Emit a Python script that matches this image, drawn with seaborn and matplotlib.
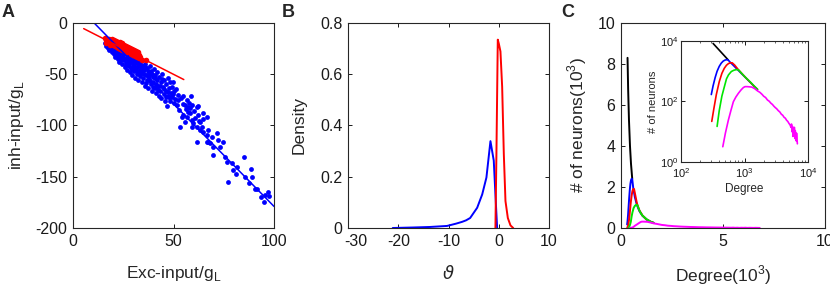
import numpy as np
import pandas as pd
import matplotlib
matplotlib.use('Agg')
import matplotlib.pyplot as plt
import matplotlib.transforms as mtrans
import seaborn as sns
from matplotlib.ticker import FormatStrFormatter, NullLocator, LogLocator

sns.set_theme(style='ticks')
plt.rcParams['font.family'] = ['Liberation Sans', 'DejaVu Sans']
plt.rcParams['axes.unicode_minus'] = False

# Panel A: excitatory vs inhibitory input
blue_x = [
    16.0, 16.5, 17.0, 17.2, 17.8, 18.0, 18.3, 18.5,
    19.0, 19.2, 19.5, 20.0, 20.2, 20.5, 20.8, 21.0, 21.2,
    22.0, 22.3, 22.5, 22.8, 23.0, 23.3, 23.6, 24.0, 24.2, 24.5,
    25.0, 25.3, 25.6, 26.0, 26.2, 26.5, 26.8, 27.0, 27.3, 27.6,
    28.0, 28.2, 28.5, 28.8, 29.0, 29.3, 29.6, 30.0, 30.2, 30.5, 30.8,
    31.0, 31.3, 31.6, 32.0, 32.2, 32.5, 32.8, 33.0, 33.3, 33.6,
    34.0, 34.2, 34.5, 34.8, 35.0, 35.3, 35.6, 36.0, 36.3, 36.6,
    37.0, 37.3, 37.6, 38.0, 38.3, 38.6, 39.0, 39.3, 39.6,
    40.0, 40.3, 40.6, 41.0, 41.3, 41.6, 42.0, 42.3, 42.6,
    43.0, 43.3, 43.6, 44.0, 44.3, 44.6, 45.0, 45.3, 45.6,
    46.0, 46.3, 46.6, 47.0, 47.3, 47.6, 48.0, 48.3, 48.6,
    49.0, 49.3, 49.8, 50.0, 50.3, 50.6, 51.5, 52.0, 52.3, 53.5, 54.8,
    53.2, 54.8, 55.7, 56.0, 56.5, 57.3, 57.5, 58.0, 58.1, 59.0, 59.0, 59.8,
    55.7, 60.0, 60.6, 61.5, 61.5, 61.5, 62.0, 62.5, 63.0, 64.0, 64.5, 64.8,
    66.5, 66.5, 67.0, 68.1, 69.0, 69.8, 71.4, 72.2, 74.7, 75.6, 76.4, 77.2,
    78.9, 81.1, 81.4, 85.1, 85.5, 87.7, 88.5, 89.2, 91.4, 95.2, 95.5, 97.2, 97.5,
    16.8, 17.5, 18.8, 19.7, 20.4, 21.5, 21.8, 22.6, 23.2, 23.8,
    24.8, 25.5, 26.3, 27.2, 27.8, 28.4, 29.2, 29.8, 30.4, 31.2,
    31.8, 32.4, 33.1, 33.8, 34.4, 35.2, 35.8, 36.4, 37.2, 37.8,
    38.4, 39.2, 39.8, 40.8, 41.5, 42.2, 43.2, 44.2, 45.2, 46.2,
    47.2, 48.2, 49.5,
    54.0, 54.5, 56.5, 58.6, 59.0, 62.3, 63.1, 64.8, 66.4, 67.3,
    69.8, 73.1, 79.5, 90.5, 93.5, 57.0, 52.5, 51.0,
]
blue_y = [
    -20, -22, -19, -24, -21, -26, -18, -23,
    -20, -25, -28, -22, -30, -18, -26, -33, -23,
    -27, -35, -21, -30, -38, -25, -33, -28, -40, -23,
    -31, -36, -43, -27, -34, -39, -46, -30, -37, -42,
    -33, -48, -38, -44, -29, -51, -36, -41, -47, -33, -54,
    -39, -45, -50, -36, -42, -56, -47, -39, -52, -44,
    -37, -49, -58, -42, -54, -46, -61, -40, -51, -56,
    -44, -63, -49, -55, -42, -60, -47, -66, -53,
    -58, -45, -63, -51, -68, -56, -48, -61, -71,
    -53, -66, -58, -73, -50, -62, -69, -56, -76,
    -60, -66, -81, -54, -71, -63, -76, -58, -68,
    -72, -62, -57.5, -66, -78, -74, -80, -70, -75, -73, -71.4,
    -101.3, -89.9, -80.2, -84, -91.6, -86.7, -78, -83, -88.3, -80.2, -94.8, -98,
    -96.4, -86, -93.1, -81.8, -101.3, -115.9, -90, -96, -104, -101.3, -94.1, -106.2,
    -109.4, -115.9, -104, -117.5, -111, -128.9, -107.7, -114.2, -115.9, -130.5, -135.4, -155.5,
    -137, -147.7, -140.3, -131.1, -150, -156.4, -142.8, -150, -162.3, -174.9, -167.8, -164.6, -168.8,
    -21.5, -23, -24.5, -23.5, -27.5, -25.5, -29, -32, -28, -36,
    -34, -29, -41, -33, -39, -35, -45, -39, -43, -35,
    -47, -39, -49, -41, -45, -50, -43, -59, -47, -52,
    -57, -50, -62, -54, -60, -65, -61, -55, -64, -72,
    -67, -72, -69,
    -91.6, -78.6, -75.3, -71.4, -101, -81, -96.4, -88.3, -91.6, -116,
    -120.8, -120.8, -143, -162, -170, -82, -85, -64,
]
red_x = [
    16.0, 16.3, 16.6, 17.0, 17.3, 17.6, 18.0, 18.2, 18.6, 19.0,
    19.2, 19.5, 19.8, 20.0, 20.3, 20.6, 21.0, 21.2, 21.5, 21.8,
    22.0, 22.3, 22.6, 23.0, 23.3, 23.6, 24.0, 24.3, 24.6, 25.0,
    25.3, 25.6, 26.0, 26.3, 26.6, 27.0, 27.3, 27.6, 28.0, 28.3,
    28.6, 29.0, 29.3, 29.6, 30.0, 30.3, 30.6, 31.0, 31.3, 31.6,
    32.0, 32.3, 32.6, 33.0, 33.3, 34.5, 36.5,
]
red_y = [
    -14.5, -17, -19.5, -15.5, -18, -20, -16, -18.8, -21, -17,
    -19.5, -15.8, -21.8, -18.5, -20.5, -16.8, -22.5, -19.5, -18, -23.5,
    -21, -19, -24, -21.8, -18.5, -25, -22.5, -20, -26, -23,
    -21, -27, -24.5, -22, -28, -25, -23, -28.5, -26, -24,
    -30, -27, -25, -31, -28, -26, -32, -29, -27.5, -33,
    -30, -28.5, -34, -31, -33, -36, -36.5,
]
blue_fit_x = [10.5, 100]
blue_fit_y = [0, -179]
red_fit_x = [5.3, 55.1]
red_fit_y = [-5.5, -55.2]

# Panel B: density of theta
theta_blue = [-21.1, -17, -13.7, -10.3, -8.5, -7.3, -6.5, -5.7, -4.3, -3.3, -2.46, -1.66, -1.0, -0.67, -0.33]
dens_blue = [0, 0.002, 0.004, 0.008, 0.017, 0.024, 0.03, 0.039, 0.079, 0.131, 0.197, 0.339, 0.263, 0.131, 0.0]
theta_red = [-0.67, -0.47, -0.2, 0.0, 0.33, 0.67, 1.0, 1.33, 1.8, 2.33, 2.87]
dens_red = [0, 0.289, 0.735, 0.72, 0.689, 0.551, 0.289, 0.105, 0.039, 0.01, 0.0]

# Panel C: degree distributions (counts)
deg_black = [320, 350, 390, 440, 490, 550]
n_black = [8300, 6760, 5280, 4000, 3130, 2400]
deg_blue = [300, 320, 345, 370, 400, 430, 460, 490, 520, 550, 600, 680, 780, 900, 1050, 1250, 1450, 1600]
n_blue = [170, 330, 620, 1000, 1450, 1850, 2150, 2330, 2400, 2380, 1950, 1500, 1120, 830, 600, 415, 305, 250]
deg_red = [305, 330, 360, 400, 440, 480, 520, 560, 600, 640, 700, 780, 900, 1050, 1250, 1450, 1600]
n_red = [22, 60, 170, 450, 850, 1250, 1580, 1800, 1900, 1900, 1600, 1200, 860, 610, 420, 305, 250]
deg_green = [370, 400, 440, 480, 520, 560, 620, 680, 740, 800, 880, 960, 1050, 1250, 1450, 1600]
n_green = [15, 50, 150, 300, 560, 760, 980, 1080, 1130, 1120, 900, 740, 610, 430, 310, 255]
deg_mag = [455, 500, 556, 610, 667, 730, 800, 880, 960, 1020, 1100, 1200, 1300, 1450, 1600, 1750,
           1900, 2000, 2150, 2300, 2450, 2600, 2750, 2900, 3050, 3200, 3400, 3600, 3800, 4000,
           4200, 4400, 4600, 4800, 5000, 5200, 5400, 5500, 5600, 5700, 5800, 5900, 6000, 6100,
           6200, 6300, 6400, 6500, 6600, 6700, 6800]
n_mag = [3.2, 9, 24, 50, 98, 140, 186, 240, 290, 310, 310, 305, 300, 265, 225, 200,
         170, 150, 135, 112, 102, 88, 80, 70, 63, 58, 50, 45, 38, 35,
         30, 28, 24, 22, 19, 17, 14, 18, 10, 15, 7, 13, 9, 14,
         6, 11, 8, 5, 9, 6, 4]

curves = [(deg_black, n_black, 'black'), (deg_blue, n_blue, (0, 0, 1)),
          (deg_red, n_red, (1, 0, 0)), (deg_green, n_green, (0, 0.9, 0)),
          (deg_mag, n_mag, (1, 0, 1))]

fig = plt.figure(figsize=(8.3, 2.92), dpi=100)
axA = fig.add_axes([0.0880, 0.2192, 0.2422, 0.7021])
axB = fig.add_axes([0.4193, 0.2192, 0.2422, 0.7021])
axC = fig.add_axes([0.7482, 0.2192, 0.2458, 0.7021])
axI = fig.add_axes([0.8205, 0.4452, 0.1530, 0.4144])


def style(ax, size=11.5):
    ax.tick_params(direction='in', top=True, right=True, length=3, width=0.7,
                   labelsize=size, colors='0.1', pad=4)
    for s in ax.spines.values():
        s.set_linewidth(0.8)
        s.set_color('0.15')


# A
sns.scatterplot(x=blue_x, y=blue_y, ax=axA, color=(0, 0, 1), s=12, linewidth=0)
sns.lineplot(x=blue_fit_x, y=blue_fit_y, ax=axA, color=(0, 0, 1), lw=1.1)
sns.scatterplot(x=red_x, y=red_y, ax=axA, color=(1, 0, 0), s=16, linewidth=0)
sns.lineplot(x=red_fit_x, y=red_fit_y, ax=axA, color=(1, 0, 0), lw=1.1)
axA.set_xlim(0, 100)
axA.set_ylim(-200, 0)
axA.set_xticks([0, 50, 100])
axA.set_yticks([0, -50, -100, -150, -200])
axA.set_xlabel('Exc-input/g$_{\\mathregular{L}}$', fontsize=12.5, labelpad=11)
axA.set_ylabel('inh-input/g$_{\\mathregular{L}}$', fontsize=12.5, labelpad=7)
style(axA)

# B
sns.lineplot(x=theta_blue, y=dens_blue, ax=axB, color=(0, 0, 1), lw=1.4, sort=False, estimator=None)
sns.lineplot(x=theta_red, y=dens_red, ax=axB, color=(1, 0, 0), lw=1.4, sort=False, estimator=None)
axB.set_xlim(-30, 10)
axB.set_ylim(0, 0.8)
axB.set_xticks([-30, -20, -10, 0, 10])
axB.set_yticks([0, 0.2, 0.4, 0.6, 0.8])
axB.yaxis.set_major_formatter(FormatStrFormatter('%g'))
axB.set_xlabel('$\\vartheta$', fontsize=13, labelpad=12)
axB.set_ylabel('Density', fontsize=12.5, labelpad=10)
style(axB)
# the first tick label sits a little to the right in the reference
first = axB.get_xticklabels()[0]
first.set_transform(first.get_transform() + mtrans.ScaledTranslation(8 / 100, 0, fig.dpi_scale_trans))

# C main
for dx, dy, c in curves:
    sns.lineplot(x=np.array(dx) / 1000, y=np.array(dy) / 1000, ax=axC, color=c, lw=1.4,
                 sort=False, estimator=None)
axC.set_xlim(0, 10)
axC.set_ylim(0, 10)
axC.set_xticks([0, 5, 10])
axC.set_yticks([0, 2, 4, 6, 8, 10])
axC.set_xlabel('Degree(10$^{\\mathregular{3}}$)', fontsize=12.5, labelpad=11)
axC.set_ylabel('# of neurons(10$^{\\mathregular{3}}$)', fontsize=12.5, labelpad=6)
style(axC)

# C inset
for dx, dy, c in curves:
    sns.lineplot(x=dx, y=dy, ax=axI, color=c, lw=1.2, sort=False, estimator=None)
axI.set_xscale('log')
axI.set_yscale('log')
axI.set_xlim(100, 10000)
axI.set_ylim(1, 10000)
axI.set_xticks([100, 1000, 10000])
axI.set_yticks([1, 100, 10000])
axI.xaxis.set_minor_locator(LogLocator(base=10, subs=np.arange(2, 10), numticks=10))
axI.yaxis.set_minor_locator(NullLocator())
axI.set_xlabel('Degree', fontsize=8.5, labelpad=2)
axI.set_ylabel('# of neurons', fontsize=8, labelpad=1)
style(axI, size=8)
axI.tick_params(which='minor', direction='in', top=True, length=1.5, width=0.5)
axI.tick_params(axis='x', pad=3)
axI.tick_params(axis='y', pad=2)

for x, lab in [(0.002, 'A'), (0.339, 'B'), (0.676, 'C')]:
    fig.text(x, 0.985, lab, fontsize=13, fontweight='bold', va='top', ha='left')

fig.savefig('out.png', dpi=100)
